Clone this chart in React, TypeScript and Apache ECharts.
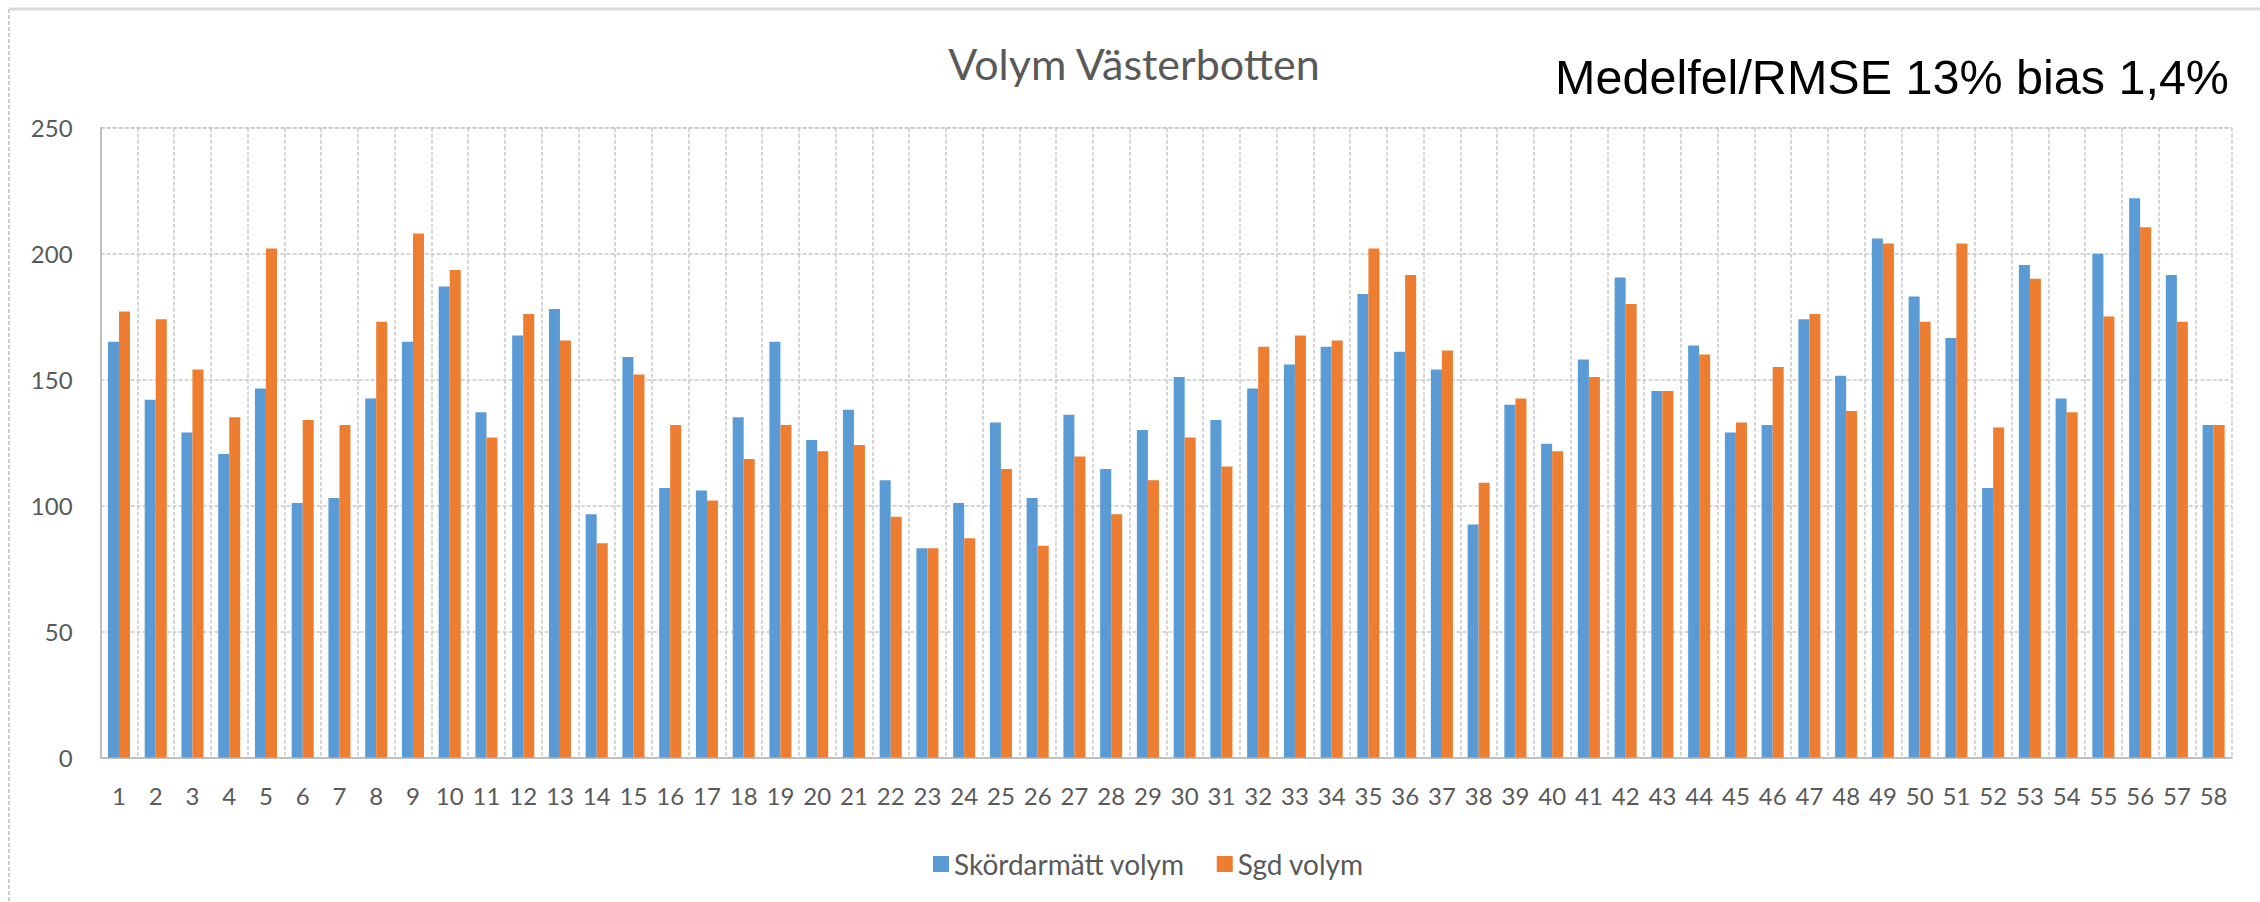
import React, { useEffect, useRef } from "react";
import * as echarts from "echarts";

const categories: string[] = Array.from({ length: 58 }, (_, i) => String(i + 1));

const skordarmattVolym: number[] = [
  165, 142, 129, 120.5, 146.5, 101, 103, 142.5, 165, 187,
  137, 167.5, 178, 96.5, 159, 107, 106, 135, 165, 126,
  138, 110, 83, 101, 133, 103, 136, 114.5, 130, 151,
  134, 146.5, 156, 163, 184, 161, 154, 92.5, 140, 124.5,
  158, 190.5, 145.5, 163.5, 129, 132, 174, 151.5, 206, 183,
  166.5, 107, 195.5, 142.5, 200, 222, 191.5, 132,
];

const sgdVolym: number[] = [
  177, 174, 154, 135, 202, 134, 132, 173, 208, 193.5,
  127, 176, 165.5, 85, 152, 132, 102, 118.5, 132, 121.5,
  124, 95.5, 83, 87, 114.5, 84, 119.5, 96.5, 110, 127,
  115.5, 163, 167.5, 165.5, 202, 191.5, 161.5, 109, 142.5, 121.5,
  151, 180, 145.5, 160, 133, 155, 176, 137.5, 204, 173,
  204, 131, 190, 137, 175, 210.5, 173, 132,
];

const seriesNames = ["Skördarmätt volym", "Sgd volym"];
const titleText = "Volym Västerbotten";
const noteText = "Medelfel/RMSE 13% bias 1,4%";

export default function App() {
  const ref = useRef<HTMLDivElement>(null);
  useEffect(() => {
    if (!ref.current) return;
    const chart = echarts.init(ref.current, null, { renderer: "svg" });
    const labelColor = "#595959";
    chart.setOption({
      animation: false,
      backgroundColor: "#ffffff",
      grid: { left: 100.6, right: 28, top: 127.7, bottom: 144.6, containLabel: false },
      legend: {
        data: seriesNames,
        left: 928,
        top: 845,
        itemWidth: 16,
        itemHeight: 16,
        itemGap: 32,
        icon: "rect",
        textStyle: { fontFamily: "Lato", fontSize: 28, color: labelColor },
      },
      xAxis: {
        type: "category",
        data: categories,
        boundaryGap: true,
        axisLine: { show: true, lineStyle: { color: "#bfbfbf", width: 2 } },
        axisTick: { show: false },
        splitLine: { show: true, lineStyle: { color: "#c8c8c8", type: [4, 2], width: 1.5 } },
        axisLabel: { fontFamily: "Lato", fontSize: 24, color: labelColor, margin: 26, interval: 0 },
      },
      yAxis: {
        type: "value",
        min: 0,
        max: 250,
        interval: 50,
        axisLine: { show: true, lineStyle: { color: "#bfbfbf", width: 2 } },
        axisTick: { show: false },
        splitLine: { show: true, lineStyle: { color: "#c8c8c8", type: [4, 2], width: 1.5 } },
        axisLabel: { fontFamily: "Lato", fontSize: 24, color: labelColor, margin: 28 },
      },
      series: [
        {
          name: seriesNames[0],
          type: "bar",
          data: skordarmattVolym,
          itemStyle: { color: "#5B9BD5" },
          barGap: "0%",
          barCategoryGap: "40%",
        },
        {
          name: seriesNames[1],
          type: "bar",
          data: sgdVolym,
          itemStyle: { color: "#ED7D31" },
          barGap: "0%",
          barCategoryGap: "40%",
        },
      ],
      graphic: [
        {
          type: "line",
          shape: { x1: 9, y1: 9, x2: 2260, y2: 9 },
          style: { stroke: "#d9d9d9", lineWidth: 3 },
        },
        {
          type: "line",
          shape: { x1: 9, y1: 9, x2: 9, y2: 902 },
          style: { stroke: "#cccccc", lineWidth: 2, lineDash: [4, 2] },
        },
        {
          type: "line",
          shape: { x1: 100.6, y1: 127.7, x2: 2232, y2: 127.7 },
          style: { stroke: "#c8c8c8", lineWidth: 1.5, lineDash: [4, 2] },
        },
        {
          type: "text",
          x: 1134,
          y: 63,
          style: {
            text: titleText,
            fontFamily: "Lato",
            fontSize: 43,
            fill: labelColor,
            textAlign: "center",
            textVerticalAlign: "middle",
          },
        },
        {
          type: "text",
          x: 2229,
          y: 77,
          style: {
            text: noteText,
            fontFamily: "Liberation Sans",
            fontSize: 48.5,
            fill: "#000000",
            textAlign: "right",
            textVerticalAlign: "middle",
          },
        },
      ],
    });
    return () => chart.dispose();
  }, []);
  return (
    <div
      ref={ref}
      style={{ position: "fixed", left: 0, top: 0, width: 2260, height: 902 }}
    />
  );
}
